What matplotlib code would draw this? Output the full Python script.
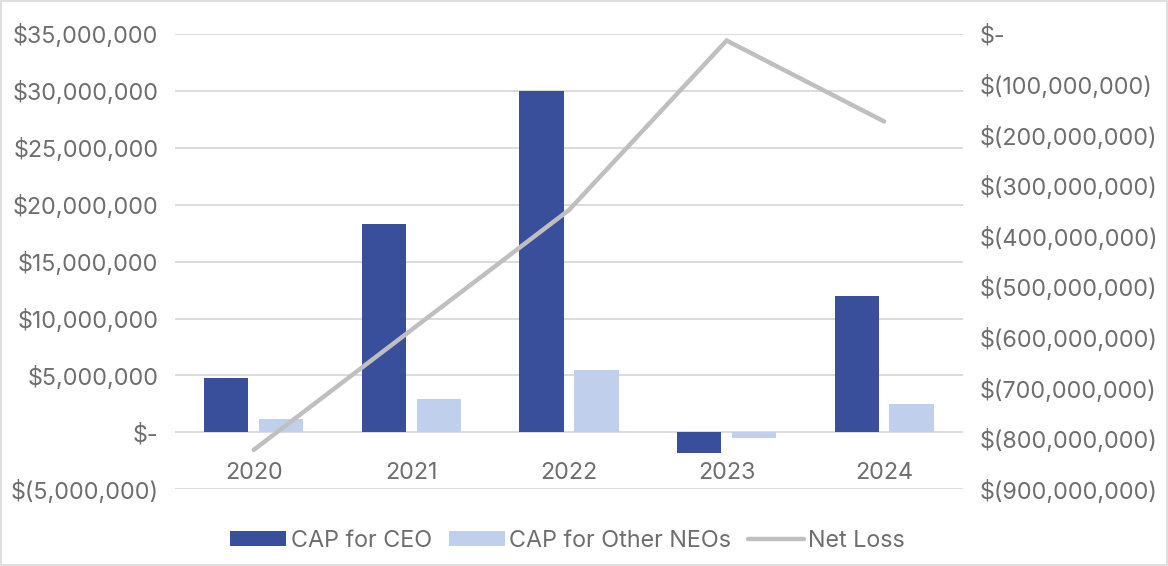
import matplotlib
matplotlib.use("Agg")
import matplotlib.pyplot as plt
import numpy as np
from matplotlib.ticker import FuncFormatter, MultipleLocator
from matplotlib.patches import Rectangle

years = ["2020", "2021", "2022", "2023", "2024"]
cap_ceo = [4.8e6, 18.3e6, 30.0e6, -1.85e6, 12.0e6]
cap_neo = [1.14e6, 2.96e6, 5.5e6, -0.53e6, 2.5e6]
net_loss = [-822e6, -585e6, -348e6, -13e6, -173e6]

plt.rcParams['font.family'] = ['Inter', 'DejaVu Sans']
TXT = '#6e6e6e'
FS = 16.8

def money(v, pos=None):
    if abs(v) < 1e-6:
        return '$-'
    s = f"{abs(v):,.0f}"
    return f"$({s})" if v < 0 else f"${s}"

fig = plt.figure(figsize=(11.68, 5.66), dpi=100)
ax = fig.add_axes([0.1498, 0.1355, 0.6747, 0.8045])
x = np.arange(len(years))
w = 0.281
gap = 0.067
b1 = ax.bar(x - (w + gap) / 2, cap_ceo, w, color='#3A4F9C', label='CAP for CEO', zorder=2)
b2 = ax.bar(x + (w + gap) / 2, cap_neo, w, color='#C0D0EC', label='CAP for Other NEOs', zorder=2)
ax.set_xlim(-0.5, len(years) - 0.5)
ax.set_ylim(-5e6, 35e6)
ax.yaxis.set_major_locator(MultipleLocator(5e6))
ax.yaxis.set_major_formatter(FuncFormatter(money))
ax.grid(axis='y', color='#D9D9D9', linewidth=1.3, zorder=0)
ax.set_axisbelow(True)
for s in ax.spines.values():
    s.set_visible(False)
ax.spines['bottom'].set_position(('data', 0))
ax.set_xticks(x)
ax.set_xticklabels(years)
ax.tick_params(axis='x', length=0, pad=21, labelsize=FS, labelcolor=TXT)
ax.tick_params(axis='y', length=0, pad=12, labelsize=FS, labelcolor=TXT)

ax2 = ax.twinx()
ln, = ax2.plot(x, net_loss, color='#BFBFBF', linewidth=3.2, solid_capstyle='round',
               solid_joinstyle='miter', label='Net Loss', zorder=3)
ax2.set_ylim(-900e6, 0)
ax2.yaxis.set_major_locator(MultipleLocator(100e6))
ax2.yaxis.set_major_formatter(FuncFormatter(money))
for s in ax2.spines.values():
    s.set_visible(False)
ax2.tick_params(axis='y', length=0, pad=12, labelsize=FS, labelcolor=TXT)

leg = fig.legend([b1, b2, ln], ['CAP for CEO', 'CAP for Other NEOs', 'Net Loss'],
                 loc='center', bbox_to_anchor=(0.486, 0.045), ncol=3, frameon=False,
                 fontsize=FS, labelcolor=TXT, handlelength=2.4, handleheight=0.6,
                 handletextpad=0.2, columnspacing=0.7)

fig.patches.append(Rectangle((0.001, 0.001), 0.998, 0.997, transform=fig.transFigure,
                             fill=False, edgecolor='#D9D9D9', linewidth=1.2))

fig.savefig('out.png', dpi=100)
